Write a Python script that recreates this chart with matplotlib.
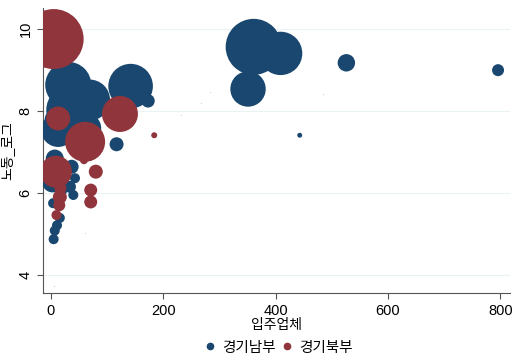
import numpy as np
import matplotlib.pyplot as plt

plt.rcParams['font.family'] = ['Liberation Sans', 'Noto Sans CJK KR']

# 경기남부 : 입주업체, 노동_로그, 가중치 (버블 면적)
south_x = [361, 409, 351, 526, 796, 443, 142, 173, 31, 69, 34, 13, 7, 63,
           117, 7, 37, 3, 43, 34, 40, 4, 16, 11, 7, 5, 18]
south_y = [9.57, 9.41, 8.54, 9.18, 9.00, 7.41, 8.61, 8.25, 8.64, 8.27, 8.03,
           7.54, 7.80, 7.58, 7.19, 6.84, 6.64, 6.27, 6.36, 6.15, 5.95, 5.75,
           5.39, 5.21, 5.08, 4.87, 6.05]
south_w = [784, 470, 313, 76, 36, 6, 497, 45, 530, 420, 560, 290, 100, 225,
           49, 81, 49, 110, 25, 36, 25, 25, 25, 25, 25, 25, 36]

# 경기북부
north_x = [5, 123, 61, 13, 9, 80, 71, 71, 184, 16, 15, 10, 59, 17]
north_y = [9.76, 7.93, 7.25, 7.82, 6.52, 6.52, 6.07, 5.78, 7.41, 5.90, 5.70,
           5.46, 6.80, 6.12]
north_w = [900, 324, 400, 144, 256, 49, 42, 42, 9, 49, 36, 25, 16, 36]

# 가중치 0 인 점들
zero_x = [283, 268, 231, 484, 60, 6]
zero_y = [8.46, 8.21, 7.90, 8.42, 5.01, 3.72]

BLUE = "#1a476f"
RED = "#90353b"

fig = plt.figure(figsize=(5.24, 3.62), dpi=100)
ax = fig.add_axes([0.082, 0.19, 0.891, 0.788])


def bubble_s(w):
    # 가중치 -> 픽셀 반지름 -> points^2
    r_px = np.sqrt(np.array(w, dtype=float))
    return (2 * r_px * 0.72) ** 2


ax.scatter(south_x, south_y, s=bubble_s(south_w), color=BLUE, lw=0,
           zorder=3, label="경기남부")
ax.scatter(north_x, north_y, s=bubble_s(north_w), color=RED, lw=0,
           zorder=4, label="경기북부")
ax.scatter(zero_x, zero_y, s=0.6, color="#c8c8c8", lw=0, zorder=2)

ax.set_xlim(-14, 817)
ax.set_ylim(3.55, 10.52)
ax.set_xticks([0, 200, 400, 600, 800])
ax.set_yticks([4, 6, 8, 10])
ax.tick_params(axis='y', labelrotation=90, length=4, color="#555555",
               labelsize=10.5)
ax.tick_params(axis='x', length=4, color="#555555", labelsize=10.5)
for lab in ax.get_yticklabels():
    lab.set_va("center")

ax.grid(axis='y', color="#eaf2f3", lw=0.8)
ax.set_axisbelow(True)
for side in ("top", "right"):
    ax.spines[side].set_visible(False)
for side in ("left", "bottom"):
    ax.spines[side].set_color("#555555")

ax.set_xlabel("입주업체", fontsize=10, labelpad=0)
ax.set_ylabel("노동_로그", fontsize=10, labelpad=3)

h1 = plt.Line2D([], [], marker="o", ls="", color=BLUE, ms=4.5)
h2 = plt.Line2D([], [], marker="o", ls="", color=RED, ms=4.5)
fig.legend([h1, h2], ["경기남부", "경기북부"], loc="center",
           bbox_to_anchor=(0.53, 0.04), ncol=2, frameon=False,
           fontsize=10.5, handletextpad=0.3, columnspacing=0.3,
           handlelength=1.0)

plt.savefig("out.png", dpi=100)
